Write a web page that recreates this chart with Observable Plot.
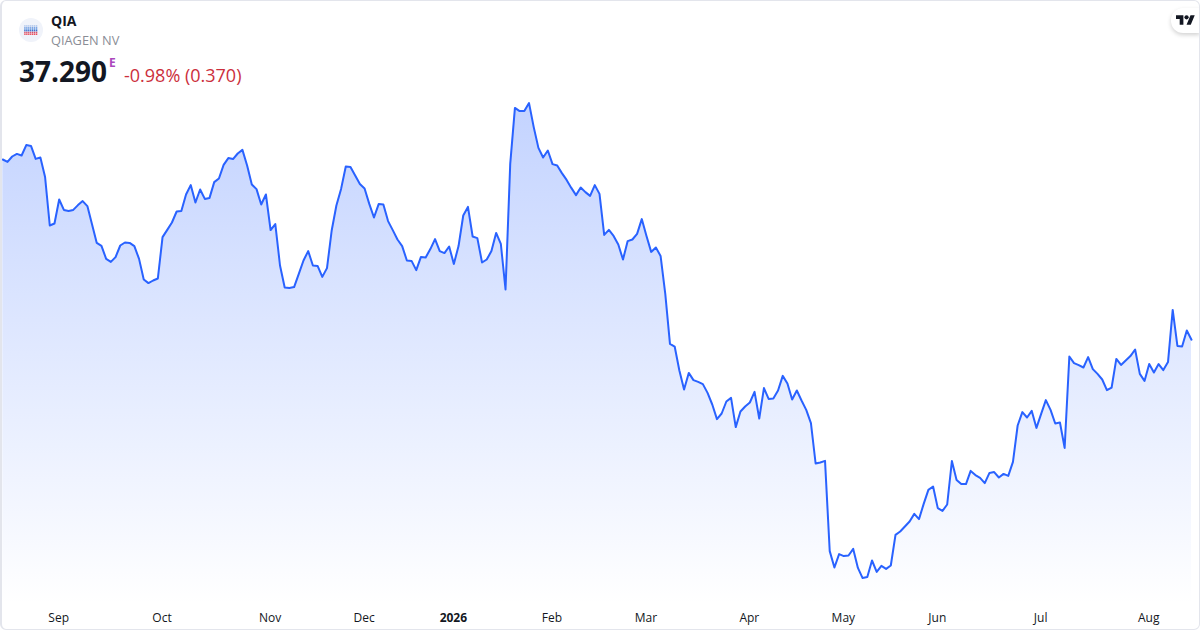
<!DOCTYPE html>
<html><head><meta charset="utf-8">
<script src="https://cdn.jsdelivr.net/npm/d3@7"></script>
<script src="https://cdn.jsdelivr.net/npm/@observablehq/plot@0.6"></script>
<style>
html,body{margin:0;padding:0;background:#fff;width:1200px;height:630px;overflow:hidden;font-family:"Open Sans",sans-serif}
#card{position:relative;width:1200px;height:630px;box-sizing:border-box}
#border{position:absolute;left:0;top:0;width:1200px;height:630px;box-sizing:border-box;border:1px solid #e3e5ec;border-left-width:2px;border-radius:6px;pointer-events:none}
#chart{position:absolute;left:0;top:0}
#chart svg{display:block}
.h{position:absolute;white-space:nowrap;line-height:1}
#logo{position:absolute;left:19px;top:18px;width:24px;height:24px}
#tv{position:absolute;left:1171px;top:8px;width:29px;height:25px;background:#fff;border-radius:12px 0 0 12px;box-shadow:0 2px 4px rgba(0,0,0,.18)}
</style></head><body>
<div id="card">
<div id="chart"></div>
<svg id="logo" viewBox="0 0 24 24"><circle cx="12" cy="12" r="12" fill="#f0f3fa"/><g id="dots"></g></svg>
<div class="h" style="left:51px;top:14px;font-size:14px;font-weight:700;color:#131722">QIA</div>
<div class="h" style="left:51px;top:34px;font-size:12.800px;color:#8a8d96">QIAGEN NV</div>
<div class="h" style="left:19px;top:57px;font-size:28px;font-weight:700;color:#131722">37.290</div>
<div class="h" style="left:109px;top:57px;font-size:12px;font-weight:700;color:#ab47bc">E</div>
<div class="h" style="left:124px;top:66px;font-size:18px;color:#cc2f3c">-0.98% (0.370)</div>
<div id="tv"><svg viewBox="0 0 36 28" width="19" height="15" style="position:absolute;left:5px;top:5px"><path fill="#131722" d="M14 22H7V11H0V4h14v18zM28 22h-8l7.500-18h8L28 22z"/><circle cx="20" cy="8" r="4" fill="#131722"/></svg></div>
<div id="border"></div>
</div>
<script>
const prices = [
46.30,46.18,46.45,46.58,46.50,47.02,46.98,46.33,46.40,45.42,
43.00,43.10,44.30,43.78,43.73,43.78,44.02,44.22,43.97,43.05,
42.13,41.98,41.33,41.18,41.42,42.00,42.15,42.13,41.97,41.33,
40.30,40.12,40.25,40.35,42.42,42.78,43.15,43.70,43.72,44.55,
45.02,44.15,44.80,44.33,44.38,45.17,45.35,46.03,46.37,46.32,
46.60,46.78,46.00,45.05,44.82,44.05,44.55,42.77,43.07,41.00,
39.90,39.87,39.92,40.58,41.25,41.72,41.00,40.98,40.43,40.87,
42.75,44.00,44.83,45.95,45.93,45.50,45.07,44.85,44.08,43.40,
44.07,44.05,43.22,42.77,42.30,41.97,41.25,41.23,40.77,41.43,
41.40,41.82,42.32,41.72,41.62,41.95,41.08,41.97,43.50,43.93,
42.45,42.37,41.15,41.30,41.72,42.63,42.08,39.80,46.08,48.88,
48.72,48.72,49.12,47.92,46.88,46.40,46.75,46.07,46.00,45.62,
45.28,44.88,44.52,44.90,44.67,44.48,45.02,44.58,42.53,42.78,
42.48,42.05,41.30,42.22,42.30,42.58,43.32,42.48,41.68,41.90,
41.48,39.58,37.08,36.95,35.75,34.80,35.63,35.27,35.18,35.07,
34.63,34.05,33.32,33.60,34.20,34.38,32.92,33.70,33.95,34.15,
34.68,33.35,34.87,34.33,34.35,34.75,35.48,35.10,34.30,34.75,
34.25,33.78,33.12,31.10,31.15,31.23,26.72,25.90,26.57,26.47,
26.50,26.83,25.88,25.37,25.42,26.25,25.68,25.98,25.83,26.00,
27.53,27.70,27.95,28.20,28.58,28.32,29.08,29.78,29.95,28.87,
28.73,29.05,31.22,30.28,30.07,30.07,30.73,30.52,30.38,30.12,
30.63,30.67,30.40,30.58,30.48,31.18,33.00,33.67,33.40,33.73,
32.88,33.58,34.27,33.78,33.10,33.15,31.88,36.45,36.12,36.02,
35.90,36.42,35.82,35.58,35.30,34.77,34.90,36.33,36.03,36.25,
36.47,36.80,35.58,35.23,36.08,35.65,36.07,35.77,36.17,38.78,
36.98,36.95,37.75,37.29
];
const tickBars = [12,34,57,77,96,117,137,159,179,199,221,244];
const tickLabels = ["Sep","Oct","Nov","Dec","2026","Feb","Mar","Apr","May","Jun","Jul","Aug"];
const baselinePrice = 24.0;
const series = prices.map((p,i)=>({i,p}));
const ticks = tickBars.map((b,k)=>({b,label:tickLabels[k]}));

const gradient = () => {
  const ns = "http://www.w3.org/2000/svg";
  const g = document.createElementNS(ns,"g");
  g.innerHTML = '<defs><linearGradient id="fade" x1="0" y1="0" x2="0" y2="1"><stop offset="0" stop-color="#2962ff" stop-opacity="0.28"/><stop offset="1" stop-color="#2962ff" stop-opacity="0"/></linearGradient></defs>';
  return g;
};
const chart = Plot.plot({
  width:1200,height:630,
  marginLeft:0,marginRight:0,marginTop:0,marginBottom:0,
  style:{background:"transparent",fontFamily:'"Open Sans",sans-serif'},
  x:{type:"linear",domain:[0,253],range:[2.3,1191],axis:null},
  y:{type:"linear",domain:[22.75,54.25],range:[630,0],axis:null},
  marks:[
    gradient,
    Plot.areaY(series,{x:"i",y1:baselinePrice,y2:"p",fill:"url(#fade)",stroke:"none"}),
    Plot.line(series,{x:"i",y:"p",stroke:"#2962ff",strokeWidth:2,strokeLinejoin:"round"}),
    Plot.text(ticks.filter(d=>d.label!=="2026"),{x:"b",y:23.35,dx:-0.5,text:"label",fontSize:12,fill:"#131722",textAnchor:"middle"}),
    Plot.text(ticks.filter(d=>d.label==="2026"),{x:"b",y:23.35,dx:-0.5,text:"label",fontSize:12,fontWeight:700,fill:"#131722",textAnchor:"middle"})
  ]
});
document.getElementById("chart").appendChild(chart);

// logo dots: pale to deep blue rows on top, red rows at the bottom
const dotsEl=document.getElementById("dots");
let s="";
const rowColours=["#b9cdee","#7fa6e4","#3f7fd8","#2a62c8","#d9506a","#e8293a"];
for(let r=0;r<6;r++)for(let c=0;c<7;c++){
  s+=`<rect x="${5.200+c*1.950}" y="${7+r*1.700}" width="1.400" height="1.300" fill="${rowColours[r]}"/>`;
}
dotsEl.innerHTML=s;
</script>
</body></html>
